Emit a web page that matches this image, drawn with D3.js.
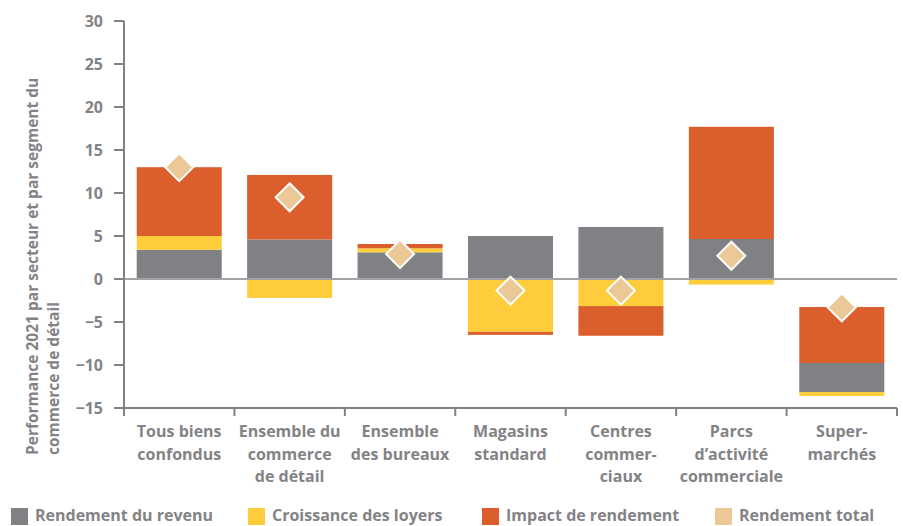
<!DOCTYPE html>
<html>
<head>
<meta charset="utf-8">
<script src="https://cdn.jsdelivr.net/npm/d3@7"></script>
<style>
  body { margin: 0; background: #fff; }
  text { font-family: "Open Sans", Lato, sans-serif; font-weight: bold; fill: #838386; }
</style>
</head>
<body>
<div id="chart"></div>
<script>
// data
var categories = ["Tous biens confondus", "Ensemble du commerce de détail", "Ensemble des bureaux",
    "Magasins standard", "Centres commerciaux", "Parcs d’activité commerciale", "Supermarchés"];
var categoryLines = [
    ["Tous biens", "confondus"],
    ["Ensemble du", "commerce", "de détail"],
    ["Ensemble", "des bureaux"],
    ["Magasins", "standard"],
    ["Centres", "commer-", "ciaux"],
    ["Parcs", "d’activité", "commerciale"],
    ["Super-", "marchés"]
];
var revenu    = [3.4, 4.6, 3.1, 5.0, 6.05, 4.65, -3.37];
var loyers    = [1.6, -2.2, 0.47, -6.15, -3.15, -0.65, -0.46];
var rendement = [8.0, 7.5, 0.5, -0.35, -3.45, 13.05, -6.51];
var ecart     = [0, 0, 0, 0, 0, 0, -3.26];   // blank gap below zero (Supermarchés)
var total     = [13.0, 9.5, 2.9, -1.35, -1.35, 2.7, -3.3];
var yTicks = [-15, -10, -5, 0, 5, 10, 15, 20, 25, 30];

var series = [
    {key: "revenu", label: "Rendement du revenu", values: revenu, color: "#808184"},
    {key: "loyers", label: "Croissance des loyers", values: loyers, color: "#FFCD3C"},
    {key: "rendement", label: "Impact de rendement", values: rendement, color: "#DB5F2C"},
    {key: "ecart", label: null, values: ecart, color: "none"}
];
// stacking order per category
var defaultOrder = ["ecart", "revenu", "loyers", "rendement"];
var orders = categories.map((c, i) => i === 6 ? ["ecart", "rendement", "revenu", "loyers"] : defaultOrder);

var width = 903, height = 526;
var svg = d3.select("#chart").append("svg")
    .attr("width", width)
    .attr("height", height);

var x = d3.scaleBand()
    .domain(categories)
    .range([124, 897])
    .paddingInner(0.23)
    .paddingOuter(0.115);

var y = d3.scaleLinear()
    .domain([-15, 30])
    .range([408, 21]);

// build stacked segments
var segments = [];
categories.forEach((c, i) => {
    var pos = 0, neg = 0;
    orders[i].forEach(k => {
        var s = series.find(d => d.key === k);
        var v = s.values[i];
        if (v >= 0) { segments.push({c: c, s: s, y0: pos, y1: pos + v}); pos += v; }
        else { segments.push({c: c, s: s, y0: neg + v, y1: neg}); neg += v; }
    });
});

svg.selectAll("rect.seg")
    .data(segments.filter(d => d.s.color !== "none"))
    .enter().append("rect")
    .attr("class", "seg")
    .attr("x", d => x(d.c))
    .attr("width", x.bandwidth())
    .attr("y", d => y(d.y1))
    .attr("height", d => y(d.y0) - y(d.y1))
    .attr("fill", d => d.s.color);

// zero line
svg.append("line")
    .attr("x1", 124).attr("x2", 897)
    .attr("y1", y(0)).attr("y2", y(0))
    .attr("stroke", "#a3a3a5")
    .attr("stroke-width", 2);

// Y axis
svg.append("line")
    .attr("x1", 124).attr("x2", 124)
    .attr("y1", y(30)).attr("y2", y(-15) + 8)
    .attr("stroke", "#808184").attr("stroke-width", 2);
var yt = svg.selectAll("g.ytick").data(yTicks).enter().append("g");
yt.append("line")
    .attr("x1", 114).attr("x2", 124)
    .attr("y1", d => y(d)).attr("y2", d => y(d))
    .attr("stroke", "#808184").attr("stroke-width", 2);
yt.append("text")
    .attr("x", 103)
    .attr("y", d => y(d))
    .attr("dy", "0.35em")
    .attr("text-anchor", "end")
    .style("font-size", "16px")
    .text(d => d < 0 ? "\u2212" + Math.abs(d) : d);

// X axis
svg.append("line")
    .attr("x1", 114).attr("x2", 897)
    .attr("y1", y(-15)).attr("y2", y(-15))
    .attr("stroke", "#808184").attr("stroke-width", 2);
var bounds = categories.map(c => x(c) - x.step() * x.paddingInner() / 2);
bounds.push(897);
svg.selectAll("line.xtick").data(bounds.slice(1)).enter().append("line")
    .attr("x1", d => d).attr("x2", d => d)
    .attr("y1", y(-15)).attr("y2", y(-15) + 8)
    .attr("stroke", "#808184").attr("stroke-width", 2);

var xl = svg.selectAll("text.xlab").data(categories).enter().append("text")
    .attr("text-anchor", "middle")
    .style("font-size", "16px");
xl.each(function(c, i) {
    d3.select(this).selectAll("tspan").data(categoryLines[i]).enter().append("tspan")
        .attr("x", x(c) + x.bandwidth() / 2)
        .attr("y", (d, j) => 437 + j * 22.5)
        .text(d => d);
});

// Y label
var yl = svg.append("text")
    .attr("transform", "translate(38,455) rotate(-90)")
    .attr("text-anchor", "start")
    .style("font-size", "15.5px");
yl.append("tspan").attr("x", 0).attr("y", 0).text("Performance 2021 par secteur et par segment du");
yl.append("tspan").attr("x", 0).attr("y", 21).text("commerce de détail");

// total diamonds
svg.selectAll("path.total")
    .data(total)
    .enter().append("path")
    .attr("d", "M0,-14L14,0L0,14L-14,0Z")
    .attr("transform", (d, i) => `translate(${x(categories[i]) + x.bandwidth() / 2},${y(d)})`)
    .attr("fill", "#EBC896")
    .attr("stroke", "#fff")
    .attr("stroke-width", 2);

// legend
var legendItems = [
    {label: "Rendement du revenu", color: "#808184", x: 11},
    {label: "Croissance des loyers", color: "#FFCD3C", x: 248},
    {label: "Impact de rendement", color: "#DB5F2C", x: 482},
    {label: "Rendement total", color: "#EBC896", x: 715}
];
var lg = svg.selectAll("g.legend").data(legendItems).enter().append("g");
lg.append("rect")
    .attr("x", d => d.x).attr("y", 508)
    .attr("width", 17).attr("height", 17)
    .attr("fill", d => d.color);
lg.append("text")
    .attr("x", d => d.x + 24).attr("y", 521)
    .style("font-size", "16px")
    .text(d => d.label);
</script>
</body>
</html>
